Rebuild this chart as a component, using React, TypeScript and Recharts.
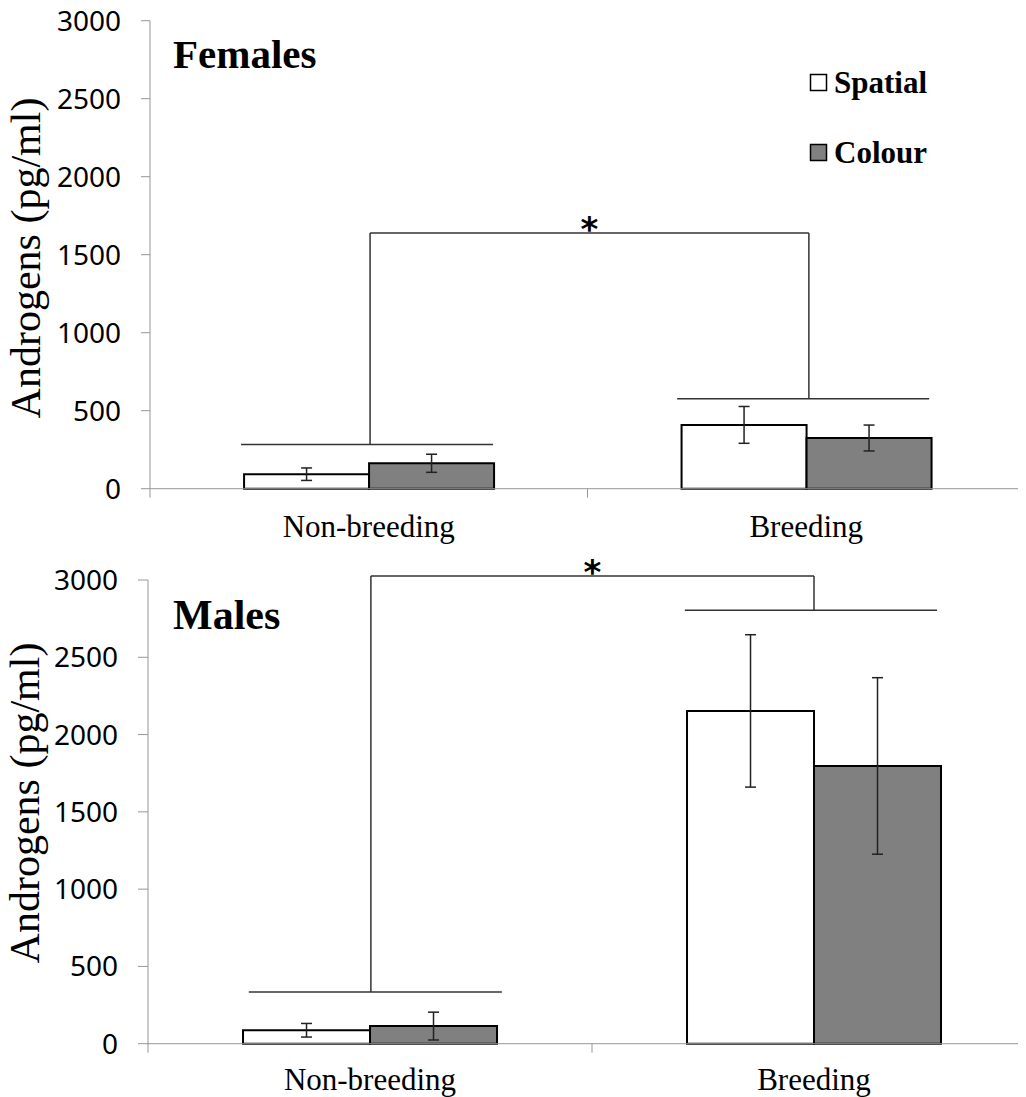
import { BarChart, Bar, XAxis, YAxis, ErrorBar, ReferenceLine, Legend } from 'recharts'

const CATEGORIES = ['Non-breeding', 'Breeding']
const Y_TICKS = [0, 500, 1000, 1500, 2000, 2500, 3000]
// numeric x axis: whole numbers are the category boundaries, halves the centres
const X_TICKS = [0, 0.5, 1, 1.5, 2]

const FEMALE_SPATIAL = [93, 409]
const FEMALE_SPATIAL_SE = [40, 118]
const FEMALE_COLOUR = [163, 325]
const FEMALE_COLOUR_SE = [58, 83]

const MALE_SPATIAL = [87, 2153]
const MALE_SPATIAL_SE = [44, 493]
const MALE_COLOUR = [114, 1797]
const MALE_COLOUR_SE = [90, 571]

// significance brackets as [x1, y1, x2, y2] in axis units, the 4th one carries the *
const FEMALE_BRACKET = [
  [0.208, 283, 0.784, 283],
  [1.205, 577, 1.781, 577],
  [0.503, 283, 0.503, 1639],
  [0.503, 1639, 1.506, 1639],
  [1.506, 1639, 1.506, 577],
]
const MALE_BRACKET = [
  [0.227, 335, 0.797, 335],
  [1.209, 2805, 1.777, 2805],
  [0.502, 335, 0.502, 3026],
  [0.502, 3026, 1.5, 3026],
  [1.5, 3026, 1.5, 2805],
]
const STAR_SEGMENT = 3

const SERIES = [
  { key: 'spatial', err: 'spatialSe', label: 'Spatial', fill: '#ffffff' },
  { key: 'colour', err: 'colourSe', label: 'Colour', fill: '#808080' },
]

const AXIS = '#979797'
const SERIF = '"Liberation Serif", "Times New Roman", serif'
const SANS = '"Noto Sans", "Open Sans", sans-serif'

type Row = {
  category: string
  slot: number
  spatial: number
  spatialSe: number
  colour: number
  colourSe: number
}

function rows(spatial: number[], spatialSe: number[], colour: number[], colourSe: number[]): Row[] {
  return CATEGORIES.map((category, i) => ({
    category,
    slot: i + 0.5, // category centre on the 0..2 numeric axis
    spatial: spatial[i],
    spatialSe: spatialSe[i],
    colour: colour[i],
    colourSe: colourSe[i],
  }))
}

const FEMALES = rows(FEMALE_SPATIAL, FEMALE_SPATIAL_SE, FEMALE_COLOUR, FEMALE_COLOUR_SE)
const MALES = rows(MALE_SPATIAL, MALE_SPATIAL_SE, MALE_COLOUR, MALE_COLOUR_SE)

function BoundaryTick(props: any) {
  const { x, y, payload, labelGap } = props
  const v = payload.value
  if (Number.isInteger(v)) {
    return <line x1={x} x2={x} y1={y} y2={y + 9} stroke={AXIS} strokeWidth={1} />
  }
  return (
    <text x={x} y={y + labelGap} textAnchor="middle" fontFamily={SERIF} fontSize={31} fill="#000">
      {CATEGORIES[Math.floor(v)]}
    </text>
  )
}

function YLabel({ centre, baseX }: { centre: number; baseX: number }) {
  return (
    <text
      x={baseX}
      y={centre}
      transform={`rotate(-90, ${baseX}, ${centre})`}
      textAnchor="middle"
      fontFamily={SERIF}
      fontSize={42}
      fill="#000"
    >
      Androgens (pg/ml)
    </text>
  )
}

// legend drawn straight from SERIES so the order stays Spatial, Colour
function LegendBox() {
  return (
    <svg width={140} height={110}>
      {SERIES.map((s, i) => (
        <g key={s.key}>
          <rect x={2.5} y={14.5 + i * 70} width={16} height={16} fill={s.fill} stroke="#000" strokeWidth={1.5} />
          <text x={26} y={33.3 + i * 70} fontFamily={SERIF} fontWeight="bold" fontSize={31} fill="#000">
            {s.label}
          </text>
        </g>
      ))}
    </svg>
  )
}

type PanelProps = {
  data: Row[]
  bracket: number[][]
  top: number
  width: number
  height: number
  margin: { top: number; right: number; bottom: number; left: number }
  yWidth: number
  yTickSize: number
  yTickMargin: number
  xHeight: number
  labelGap: number
  gap: string
  labelCentre: number
  labelX: number
  legend?: boolean
}

function Panel(p: PanelProps) {
  return (
    <div style={{ position: 'absolute', left: 0, top: p.top }}>
      <BarChart width={p.width} height={p.height} data={p.data} margin={p.margin} barCategoryGap={p.gap} barGap={0}>
        <XAxis xAxisId="cat" dataKey="category" hide height={0} />
        <XAxis
          xAxisId="num"
          dataKey="slot"
          type="number"
          domain={[0, 2]}
          allowDataOverflow
          ticks={X_TICKS}
          interval={0}
          height={p.xHeight}
          tickSize={0}
          tickMargin={0}
          tickLine={false}
          axisLine={{ stroke: AXIS, strokeWidth: 1 }}
          tick={<BoundaryTick labelGap={p.labelGap} />}
        />
        <YAxis
          domain={[0, 3000]}
          ticks={Y_TICKS}
          interval={0}
          width={p.yWidth}
          tickSize={p.yTickSize}
          tickMargin={p.yTickMargin}
          axisLine={{ stroke: AXIS, strokeWidth: 1 }}
          tickLine={{ stroke: AXIS, strokeWidth: 1 }}
          tick={{ fill: '#000', fontSize: 28, fontFamily: SANS }}
          label={<YLabel centre={p.labelCentre} baseX={p.labelX} />}
        />
        {p.legend && (
          <Legend
            layout="horizontal"
            verticalAlign="middle"
            align="center"
            content={<LegendBox />}
            wrapperStyle={{ left: 808, top: 60, width: 140, height: 110 }}
          />
        )}
        {SERIES.map((s) => (
          <Bar
            key={s.key}
            xAxisId="cat"
            dataKey={s.key}
            name={s.label}
            fill={s.fill}
            stroke="#000"
            strokeWidth={2}
            isAnimationActive={false}
          >
            <ErrorBar dataKey={s.err} width={5.5} stroke="#222" strokeWidth={1.5} isAnimationActive={false} />
          </Bar>
        ))}
        {p.bracket.map(([x1, y1, x2, y2], i) => (
          <ReferenceLine
            key={i}
            xAxisId="num"
            segment={[
              { x: x1, y: y1 },
              { x: x2, y: y2 },
            ]}
            ifOverflow="visible"
            stroke="#333"
            strokeWidth={1.5}
            label={
              i === STAR_SEGMENT
                ? {
                    value: '*',
                    position: 'top',
                    offset: -8,
                    fill: '#000',
                    fontSize: 34,
                    fontWeight: 'bold',
                    fontFamily: '"DejaVu Sans", sans-serif',
                  }
                : undefined
            }
          />
        ))}
      </BarChart>
    </div>
  )
}

export default function App() {
  return (
    <div
      style={{
        position: 'relative',
        left: -8,
        top: -8,
        width: 1026,
        height: 1097,
        overflow: 'hidden',
        background: '#fff',
      }}
    >
      <Panel
        data={FEMALES}
        bracket={FEMALE_BRACKET}
        top={0}
        width={1026}
        height={550}
        margin={{ top: 20.7, right: 1, bottom: 0, left: 0 }}
        yWidth={150}
        yTickSize={9}
        yTickMargin={20}
        xHeight={61.3}
        labelGap={48}
        gap="21.5%"
        labelCentre={258}
        labelX={40}
        legend
      />
      <Panel
        data={MALES}
        bracket={MALE_BRACKET}
        top={540}
        width={1040}
        height={557}
        margin={{ top: 40, right: 4, bottom: 0, left: 0 }}
        yWidth={148}
        yTickSize={10}
        yTickMargin={20}
        xHeight={53.3}
        labelGap={46}
        gap="21.4%"
        labelCentre={263}
        labelX={39}
      />
      <svg width={1026} height={1097} style={{ position: 'absolute', left: 0, top: 0, pointerEvents: 'none' }}>
        <text x={173} y={68} fontFamily={SERIF} fontWeight="bold" fontSize={41} fill="#000">
          Females
        </text>
        <text x={173} y={629} fontFamily={SERIF} fontWeight="bold" fontSize={42} fill="#000">
          Males
        </text>
      </svg>
    </div>
  )
}
